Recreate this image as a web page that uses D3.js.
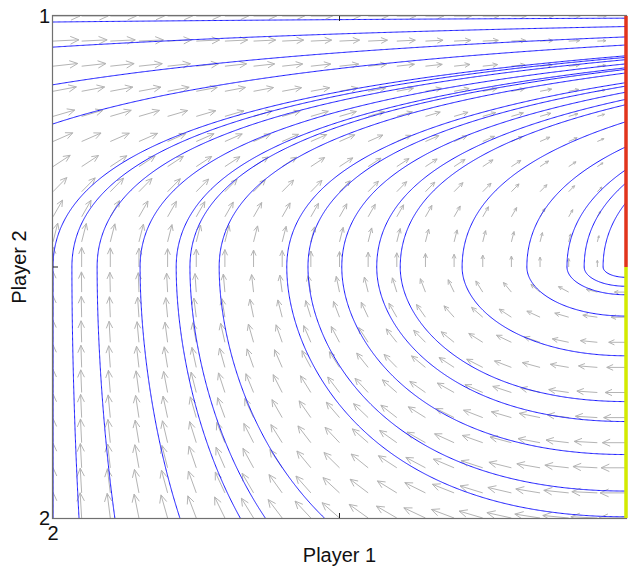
<!DOCTYPE html>
<html>
<head>
<meta charset="utf-8">
<script src="https://cdn.jsdelivr.net/npm/d3@7"></script>
<style>
  body { margin: 0; background: #fff; }
  svg { display: block; }
  text { font-family: "Liberation Sans", Arial, Helvetica, sans-serif; fill: #111; }
</style>
</head>
<body>
<svg id="chart" width="628" height="569"></svg>
<script>
// Payoff advantage of strategy 1 over strategy 2, at the two pure strategies of the opponent
const p1Advantage = [-1, 1];   // player 1, opponent share 0 -> 1
const p2Advantage = [1, 0];    // player 2, opponent share 0 -> 1

// Axis tick labels (pure strategies at the ends of each axis)
const xTickLabels = [{ share: 0, label: "2" }];
const yTickLabels = [{ share: 1, label: "1" }, { share: 0, label: "2" }];
const axisTitles = { x: "Player 1", y: "Player 2" };

// Sampling grid for the direction field (shares per axis)
const gridShares = d3.range(0, 21).map(i => i / 20);

// Streamline seeds: points on the left edge [u, v] and turning points on v = 0.5
const edgeSeeds = [[0, 0], [0, 0.988], [0, 0.938], [0, 0.863], [0, 0.785]];
const turnSeeds = [0.033, 0.077, 0.152, 0.215, 0.239, 0.29, 0.408, 0.445, 0.504,
                   0.565, 0.606, 0.714, 0.827, 0.897, 0.927, 0.96];

// Rest points on the u = 1 edge: stable part and unstable part
const restSegments = [
  { from: 0.5, to: 1, color: "#e2341c" },
  { from: 0, to: 0.5, color: "#d3ea00" }
];

const svg = d3.select("#chart");
const x = d3.scaleLinear().domain([0, 1]).range([53, 626]);
const y = d3.scaleLinear().domain([0, 1]).range([518, 16]);
const W = x(1) - x(0), H = y(0) - y(1);

const gain1 = d3.scaleLinear().domain([0, 1]).range(p1Advantage);
const gain2 = d3.scaleLinear().domain([0, 1]).range(p2Advantage);

// Pairwise-comparison (Smith) dynamics for a two-strategy population
function pairwise(share, adv) { return adv > 0 ? (1 - share) * adv : share * adv; }
function field(u, v) { return [pairwise(u, gain1(v)), pairwise(v, gain2(u))]; }

svg.append("defs").append("clipPath").attr("id", "plotClip")
  .append("rect").attr("x", x(0)).attr("y", y(1)).attr("width", W).attr("height", H);

// ---- direction field ----
const vecs = [];
gridShares.forEach(u => gridShares.forEach(v => {
  const f = field(u, v);
  const px = f[0] * W, py = -f[1] * H;
  const m = Math.hypot(px, py);
  if (m > 1e-9) vecs.push({ u, v, px, py, m });
}));
const mMax = d3.max(vecs, d => d.m);
const lenScale = d3.scalePow().exponent(0.37).domain([0, mMax]).range([0, 27]);

const arrowG = svg.append("g").attr("clip-path", "url(#plotClip)")
  .attr("stroke", "#b4b4b4").attr("stroke-width", 1).attr("fill", "none");
vecs.forEach(d => {
  const L = lenScale(d.m);
  const dx = d.px / d.m * L, dy = d.py / d.m * L;
  const x0 = x(d.u), y0 = y(d.v), x1 = x0 + dx, y1 = y0 + dy;
  const back = 0.33, side = 0.15;
  const h1 = [x1 - back * dx - side * dy, y1 - back * dy + side * dx];
  const h2 = [x1 - back * dx + side * dy, y1 - back * dy - side * dx];
  arrowG.append("path")
    .attr("d", `M${x0},${y0}L${x1},${y1}M${h1[0]},${h1[1]}L${x1},${y1}L${h2[0]},${h2[1]}`);
});

// ---- streamlines ----
function trace(u0, v0, dir) {
  const h = 1.2;
  const step = (u, v) => {
    const f = field(u, v);
    const px = f[0] * W, py = f[1] * H;
    const m = Math.hypot(px, py);
    if (m < 1e-10) return null;
    return [dir * px / m * h / W, dir * py / m * h / H];
  };
  const pts = [[u0, v0]];
  let u = u0, v = v0;
  for (let i = 0; i < 5000; i++) {
    const k1 = step(u, v); if (!k1) break;
    const k2 = step(u + k1[0] / 2, v + k1[1] / 2); if (!k2) break;
    const k3 = step(u + k2[0] / 2, v + k2[1] / 2); if (!k3) break;
    const k4 = step(u + k3[0], v + k3[1]); if (!k4) break;
    u += (k1[0] + 2 * k2[0] + 2 * k3[0] + k4[0]) / 6;
    v += (k1[1] + 2 * k2[1] + 2 * k3[1] + k4[1]) / 6;
    pts.push([u, v]);
    if (u > 0.9999 || v > 1 || u < -1e-6 || v < -1e-6) break;
  }
  return pts;
}

const lines = [];
edgeSeeds.forEach(s => lines.push(trace(s[0], s[1], 1)));
turnSeeds.forEach(u => {
  const fwd = trace(u, 0.5, 1);
  const bwd = trace(u, 0.5, -1).reverse();
  lines.push(bwd.concat(fwd.slice(1)));
});

const line = d3.line().x(d => x(d[0])).y(d => y(d[1]));
svg.append("g").attr("clip-path", "url(#plotClip)")
  .selectAll("path").data(lines).join("path")
  .attr("d", line)
  .attr("fill", "none").attr("stroke", "#1a1aff").attr("stroke-width", 1);

// ---- frame and ticks ----
svg.append("rect")
  .attr("x", x(0) - 0.5).attr("y", y(1) - 0.5).attr("width", W + 1).attr("height", H + 1)
  .attr("fill", "none").attr("stroke", "#707070").attr("stroke-width", 1.2);

const tickG = svg.append("g").attr("stroke", "#222").attr("stroke-width", 1);
tickG.append("line").attr("x1", x(0.5)).attr("x2", x(0.5)).attr("y1", y(0)).attr("y2", y(0) - 5);
tickG.append("line").attr("x1", x(0.5)).attr("x2", x(0.5)).attr("y1", y(1)).attr("y2", y(1) + 5);
tickG.append("line").attr("x1", x(0)).attr("x2", x(0) + 5).attr("y1", y(0.5)).attr("y2", y(0.5));

// ---- rest-point edge ----
svg.append("g").selectAll("line").data(restSegments).join("line")
  .attr("x1", x(1)).attr("x2", x(1))
  .attr("y1", d => y(d.from)).attr("y2", d => y(d.to))
  .attr("stroke", d => d.color).attr("stroke-width", 3.5);

// ---- labels ----
svg.append("g").selectAll("text").data(xTickLabels).join("text")
  .attr("x", d => x(d.share)).attr("y", 540)
  .attr("text-anchor", "middle").attr("font-size", 20).text(d => d.label);

svg.append("g").selectAll("text").data(yTickLabels).join("text")
  .attr("x", 50).attr("y", d => y(d.share) + 7)
  .attr("text-anchor", "end").attr("font-size", 20).text(d => d.label);

svg.append("text").attr("x", x(0.5)).attr("y", 562)
  .attr("text-anchor", "middle").attr("font-size", 20).text(axisTitles.x);

svg.append("text").attr("transform", `translate(26,${y(0.5)}) rotate(-90)`)
  .attr("text-anchor", "middle").attr("font-size", 20).text(axisTitles.y);
</script>
</body>
</html>
